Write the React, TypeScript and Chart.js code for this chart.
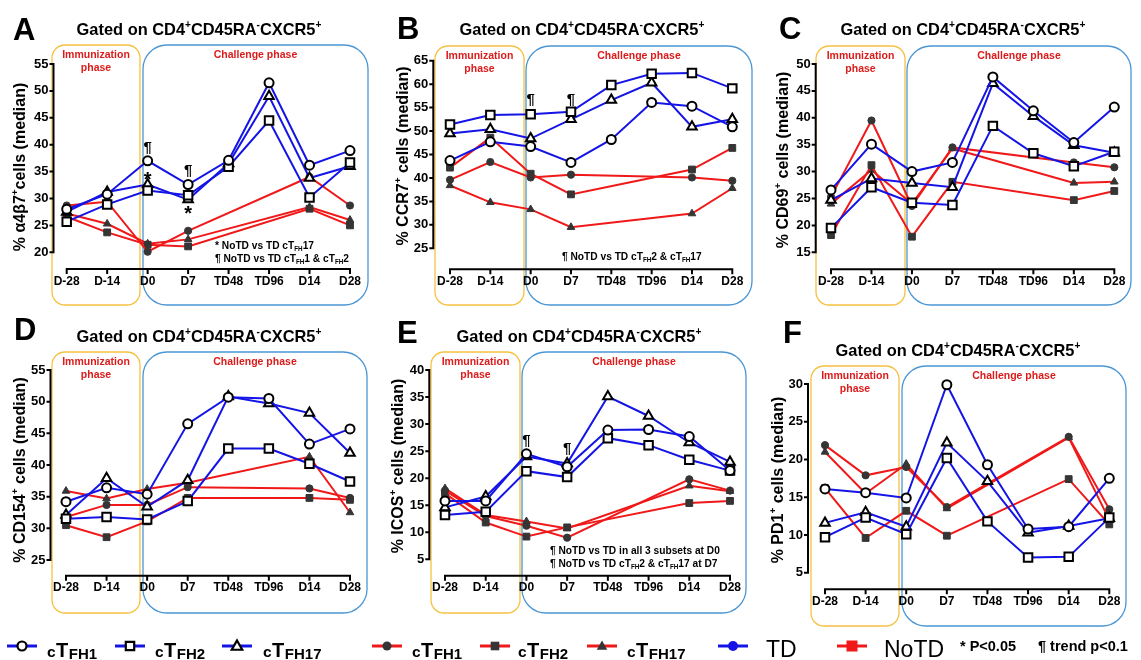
import React, { useEffect, useRef } from 'react';
import { Chart, registerables } from 'chart.js';
Chart.register(...registerables);

const FF = "'Liberation Sans', Arial, Helvetica, sans-serif";
const BLUE = '#1414e6';
const RED = '#f01818';
const MARK = '#353535';
const ORANGE = '#f6c141';
const BOXBLUE = '#4a96d4';
const PHASE_RED = '#dc1b1b';

// ---------- data ----------
const timepoints = ['D-28', 'D-14', 'D0', 'D7', 'TD48', 'TD96', 'D14', 'D28'];
const subsets = ['cTFH1', 'cTFH2', 'cTFH17'];

// Panel A: % a4b7+
const A_yTicks = [20, 25, 30, 35, 40, 45, 50, 55];
const A_TD_cTFH1 = [28.0, 30.8, 37.0, 32.6, 37.1, 51.5, 36.2, 38.9];
const A_TD_cTFH2 = [25.7, 28.9, 31.5, 30.6, 35.9, 44.5, 30.2, 36.7];
const A_TD_cTFH17 = [27.5, 31.2, 32.6, 29.8, 36.5, 49.0, 33.8, 36.0];
const A_NoTD_cTFH1 = [28.7, 29.4, 20.1, 24.0, null, null, 34.0, 28.7];
const A_NoTD_cTFH2 = [26.6, 23.7, 21.4, 21.1, null, null, 28.1, 25.0];
const A_NoTD_cTFH17 = [27.2, 25.3, 21.6, 22.4, null, null, 28.4, 26.0];

// Panel B: % CCR7+
const B_yTicks = [25, 30, 35, 40, 45, 50, 55, 60, 65];
const B_TD_cTFH1 = [43.7, 47.7, 46.7, 43.3, 48.2, 56.1, 55.3, 50.9];
const B_TD_cTFH2 = [51.4, 53.4, 53.6, 54.1, 59.8, 62.2, 62.4, 59.1];
const B_TD_cTFH17 = [49.5, 50.4, 48.4, 52.5, 56.6, 60.3, 50.9, 52.5];
const B_NoTD_cTFH1 = [39.6, 43.4, 40.1, 40.7, null, null, 40.1, 39.4];
const B_NoTD_cTFH2 = [42.2, 48.6, 40.9, 36.5, null, null, 41.8, 46.4];
const B_NoTD_cTFH17 = [38.4, 34.8, 33.3, 29.5, null, null, 32.4, 37.8];

// Panel C: % CD69+
const C_yTicks = [15, 20, 25, 30, 35, 40, 45, 50];
const C_TD_cTFH1 = [26.6, 35.1, 30.0, 31.7, 47.6, 41.3, 35.4, 42.0];
const C_TD_cTFH2 = [19.5, 27.1, 24.2, 23.8, 38.5, 33.4, 31.0, 33.7];
const C_TD_cTFH17 = [24.7, 28.7, 27.9, 27.1, 46.4, 40.3, 34.9, 33.5];
const C_NoTD_cTFH1 = [25.3, 39.5, 23.6, 34.5, null, null, 31.7, 30.8];
const C_NoTD_cTFH2 = [18.2, 31.2, 17.9, 28.1, null, null, 24.7, 26.4];
const C_NoTD_cTFH17 = [24.0, 30.3, 24.0, 34.3, null, null, 27.9, 28.1];

// Panel D: % CD154+
const D_yTicks = [25, 30, 35, 40, 45, 50, 55];
const D_TD_cTFH1 = [34.2, 36.4, 35.4, 46.5, 50.7, 50.5, 43.3, 45.7];
const D_TD_cTFH2 = [31.5, 31.8, 31.4, 34.3, 42.6, 42.6, 40.2, 37.4];
const D_TD_cTFH17 = [32.1, 37.9, 33.4, 37.6, 50.8, 49.7, 48.2, 41.9];
const D_NoTD_cTFH1 = [31.8, 33.7, 33.7, 36.5, null, null, 36.3, 34.8];
const D_NoTD_cTFH2 = [30.5, 28.6, 31.1, 34.8, null, null, 34.8, 34.5];
const D_NoTD_cTFH17 = [35.9, 34.7, 36.2, 37.2, null, null, 41.3, 32.5];

// Panel E: % ICOS+
const E_yTicks = [5, 10, 15, 20, 25, 30, 35, 40];
const E_TD_cTFH1 = [15.8, 15.8, 24.5, 22.1, 28.9, 29.0, 27.7, 21.4];
const E_TD_cTFH2 = [13.2, 13.8, 21.3, 20.2, 27.4, 26.1, 23.4, 21.4];
const E_TD_cTFH17 = [14.6, 16.6, 24.0, 22.7, 35.1, 31.5, 26.6, 23.0];
const E_NoTD_cTFH1 = [17.7, 13.0, 11.2, 9.0, null, null, 19.8, 17.7];
const E_NoTD_cTFH2 = [17.2, 11.8, 9.2, 10.9, null, null, 15.4, 15.8];
const E_NoTD_cTFH17 = [18.1, 13.2, 12.0, 10.7, null, null, 18.6, 17.6];

// Panel F: % PD1+
const F_yTicks = [5, 10, 15, 20, 25, 30];
const F_TD_cTFH1 = [16.1, 15.6, 14.9, 29.9, 19.3, 10.8, 11.1, 17.5];
const F_TD_cTFH2 = [9.7, 12.3, 10.1, 20.2, 11.8, 7.0, 7.1, 12.3];
const F_TD_cTFH17 = [11.6, 13.0, 11.1, 22.2, 17.1, 10.3, 11.2, 12.2];
const F_NoTD_cTFH1 = [21.9, 17.9, 19.0, 13.7, null, null, 23.0, 13.4];
const F_NoTD_cTFH2 = [16.2, 9.6, 13.2, 9.9, null, null, 17.4, 11.4];
const F_NoTD_cTFH17 = [21.0, 15.5, 19.4, 13.5, null, null, 22.9, 12.0];

// ---------- text helpers ----------
type Seg = [string, string?];
const font = (size: number, weight: string) => `${weight} ${size}px ${FF}`;
function richWidth(ctx: CanvasRenderingContext2D, segs: Seg[], size: number, weight: string) {
  let w = 0;
  for (const [t, k] of segs) {
    ctx.font = font(k ? size * 0.62 : size, weight);
    w += ctx.measureText(t).width;
  }
  return w;
}
function drawRich(ctx: CanvasRenderingContext2D, segs: Seg[], x: number, y: number, size: number, weight: string, color: string, align: string) {
  const w = richWidth(ctx, segs, size, weight);
  let cx = align === 'center' ? x - w / 2 : align === 'right' ? x - w : x;
  ctx.fillStyle = color;
  ctx.textAlign = 'left';
  ctx.textBaseline = 'alphabetic';
  for (const [t, k] of segs) {
    const fs = k ? size * 0.62 : size;
    ctx.font = font(fs, weight);
    const dy = k === 'sup' ? -size * 0.42 : k === 'sub' ? size * 0.22 : 0;
    ctx.fillText(t, cx, y + dy);
    cx += ctx.measureText(t).width;
  }
}
function roundRectPath(ctx: CanvasRenderingContext2D, x1: number, y1: number, x2: number, y2: number, r: number) {
  ctx.beginPath();
  ctx.moveTo(x1 + r, y1);
  ctx.lineTo(x2 - r, y1);
  ctx.arcTo(x2, y1, x2, y1 + r, r);
  ctx.lineTo(x2, y2 - r);
  ctx.arcTo(x2, y2, x2 - r, y2, r);
  ctx.lineTo(x1 + r, y2);
  ctx.arcTo(x1, y2, x1, y2 - r, r);
  ctx.lineTo(x1, y1 + r);
  ctx.arcTo(x1, y1, x1 + r, y1, r);
  ctx.closePath();
}

const TITLE: Seg[] = [['Gated on CD4'], ['+', 'sup'], ['CD45RA'], ['-', 'sup'], ['CXCR5'], ['+', 'sup']];

interface Note { x: number; y: number; segs: Seg[] }
interface Mark { t: string; i: number; v: number }
interface PanelCfg {
  id: string;
  cv: number[];
  yLabel: Seg[];
  yTicks: number[];
  td: (number | null)[][];
  notd: (number | null)[][];
  yAxisX: number; x0: number; x7: number; xAxisY: number; yTopPx: number; yBotPx: number;
  letterPos: number[]; titlePos: number[]; yLabPos: number[];
  orange: number[]; blue: number[];
  notes: Note[]; marks: Mark[];
}

const panels: PanelCfg[] = [
  {
    id: 'A', cv: [0, 0, 376, 312],
    yLabel: [['% α4β7'], ['+', 'sup'], ['cells (median)']], yTicks: A_yTicks,
    td: [A_TD_cTFH1, A_TD_cTFH2, A_TD_cTFH17], notd: [A_NoTD_cTFH1, A_NoTD_cTFH2, A_NoTD_cTFH17],
    yAxisX: 53.5, x0: 66.7, x7: 350, xAxisY: 269, yTopPx: 64, yBotPx: 252.3,
    letterPos: [13, 40], titlePos: [199, 35], yLabPos: [18.5, 167],
    orange: [52, 45, 140, 305], blue: [143, 45, 368, 305],
    notes: [
      { x: 215, y: 248.5, segs: [['* NoTD vs TD cT'], ['FH', 'sub'], ['17']] },
      { x: 215, y: 261.5, segs: [['¶ NoTD vs TD cT'], ['FH', 'sub'], ['1 & cT'], ['FH', 'sub'], ['2']] },
    ],
    marks: [{ t: '¶', i: 2, v: 39.5 }, { t: '*', i: 2, v: 34.0 }, { t: '¶', i: 3, v: 35.1 }, { t: '*', i: 3, v: 27.7 }],
  },
  {
    id: 'B', cv: [370, 0, 385, 312],
    yLabel: [['% CCR7'], ['+', 'sup'], [' cells (median)']], yTicks: B_yTicks,
    td: [B_TD_cTFH1, B_TD_cTFH2, B_TD_cTFH17], notd: [B_NoTD_cTFH1, B_NoTD_cTFH2, B_NoTD_cTFH17],
    yAxisX: 433.3, x0: 450, x7: 732.3, xAxisY: 269.3, yTopPx: 60.7, yBotPx: 248.3,
    letterPos: [397, 38.5], titlePos: [582, 35], yLabPos: [401.5, 156],
    orange: [435, 46, 524, 305], blue: [526, 46, 752, 305],
    notes: [{ x: 562, y: 260, segs: [['¶ NoTD vs TD cT'], ['FH', 'sub'], ['2 & cT'], ['FH', 'sub'], ['17']] }],
    marks: [{ t: '¶', i: 2, v: 56.6 }, { t: '¶', i: 3, v: 56.6 }],
  },
  {
    id: 'C', cv: [750, 0, 391, 312],
    yLabel: [['% CD69'], ['+', 'sup'], [' cells (median)']], yTicks: C_yTicks,
    td: [C_TD_cTFH1, C_TD_cTFH2, C_TD_cTFH17], notd: [C_NoTD_cTFH1, C_NoTD_cTFH2, C_NoTD_cTFH17],
    yAxisX: 815.7, x0: 831, x7: 1114.3, xAxisY: 269.3, yTopPx: 64, yBotPx: 252.3,
    letterPos: [779, 39], titlePos: [963, 35], yLabPos: [782, 160],
    orange: [816, 46, 905, 305], blue: [907, 46, 1131, 305],
    notes: [], marks: [],
  },
  {
    id: 'D', cv: [0, 300, 376, 330],
    yLabel: [['% CD154'], ['+', 'sup'], [' cells (median)']], yTicks: D_yTicks,
    td: [D_TD_cTFH1, D_TD_cTFH2, D_TD_cTFH17], notd: [D_NoTD_cTFH1, D_NoTD_cTFH2, D_NoTD_cTFH17],
    yAxisX: 50.5, x0: 66, x7: 350, xAxisY: 575.7, yTopPx: 370, yBotPx: 560,
    letterPos: [14, 340], titlePos: [199, 341.5], yLabPos: [18.5, 470],
    orange: [52, 352, 140, 613], blue: [143, 352, 367, 613],
    notes: [], marks: [],
  },
  {
    id: 'E', cv: [370, 300, 385, 330],
    yLabel: [['% ICOS'], ['+', 'sup'], [' cells (median)']], yTicks: E_yTicks,
    td: [E_TD_cTFH1, E_TD_cTFH2, E_TD_cTFH17], notd: [E_NoTD_cTFH1, E_NoTD_cTFH2, E_NoTD_cTFH17],
    yAxisX: 429.3, x0: 445, x7: 730, xAxisY: 575.7, yTopPx: 370, yBotPx: 559.3,
    letterPos: [397, 343], titlePos: [579, 341.5], yLabPos: [397, 466],
    orange: [431, 352, 520, 613], blue: [522, 352, 746, 613],
    notes: [
      { x: 550, y: 554, segs: [['¶ NoTD vs TD in all 3 subsets at D0']] },
      { x: 550, y: 567, segs: [['¶ NoTD vs TD cT'], ['FH', 'sub'], ['2 & cT'], ['FH', 'sub'], ['17 at D7']] },
    ],
    marks: [{ t: '¶', i: 2, v: 26.9 }, { t: '¶', i: 3, v: 25.45 }],
  },
  {
    id: 'F', cv: [750, 300, 391, 330],
    yLabel: [['% PD1'], ['+', 'sup'], [' cells (median)']], yTicks: F_yTicks,
    td: [F_TD_cTFH1, F_TD_cTFH2, F_TD_cTFH17], notd: [F_NoTD_cTFH1, F_NoTD_cTFH2, F_NoTD_cTFH17],
    yAxisX: 808, x0: 825, x7: 1109.3, xAxisY: 589.3, yTopPx: 384, yBotPx: 572.7,
    letterPos: [783, 343], titlePos: [958, 356], yLabPos: [777, 480],
    orange: [811, 366, 899, 626], blue: [902, 366, 1126, 626],
    notes: [], marks: [],
  },
];

const pointStyles = ['circle', 'rect', 'triangle'];
const tdRadius = [4.5, 6, 5.5];
const ntRadius = [3.6, 4.8, 4.4];

function buildConfig(p: PanelCfg): any {
  const [cl, ct, cw, ch] = p.cv;
  const lo = p.yTicks[0];
  const hi = p.yTicks[p.yTicks.length - 1];
  const ppu = (p.yBotPx - p.yTopPx) / (hi - lo);
  const yMin = lo - (p.xAxisY - p.yBotPx) / ppu;
  const yScaleWidth = p.x0 - cl;
  const xScaleHeight = ct + ch - p.xAxisY;

  const datasets: any[] = [];
  p.td.forEach((d, i) => datasets.push({
    label: 'TD ' + subsets[i], data: d, borderColor: BLUE, borderWidth: 2,
    pointStyle: pointStyles[i], pointRadius: tdRadius[i], pointBackgroundColor: '#ffffff',
    pointBorderColor: '#000000', pointBorderWidth: 2, spanGaps: true, clip: false, tension: 0, fill: false,
  }));
  p.notd.forEach((d, i) => datasets.push({
    label: 'NoTD ' + subsets[i], data: d, borderColor: RED, borderWidth: 2,
    pointStyle: pointStyles[i], pointRadius: ntRadius[i], pointBackgroundColor: MARK,
    pointBorderColor: MARK, pointBorderWidth: 1, spanGaps: true, clip: false, tension: 0, fill: false,
  }));

  const decor = {
    id: 'decor' + p.id,
    beforeDraw(chart: any) {
      const ctx = chart.ctx as CanvasRenderingContext2D;
      ctx.save();
      ctx.translate(-cl, -ct);
      ctx.lineWidth = 1.3;
      ctx.strokeStyle = ORANGE;
      roundRectPath(ctx, p.orange[0], p.orange[1], p.orange[2], p.orange[3], 13);
      ctx.stroke();
      ctx.strokeStyle = BOXBLUE;
      roundRectPath(ctx, p.blue[0], p.blue[1], p.blue[2], p.blue[3], 24);
      ctx.stroke();
      const ocx = (p.orange[0] + p.orange[2]) / 2;
      const bcx = (p.blue[0] + p.blue[2]) / 2;
      drawRich(ctx, [['Immunization']], ocx, p.orange[1] + 13, 10.5, 'bold', PHASE_RED, 'center');
      drawRich(ctx, [['phase']], ocx, p.orange[1] + 25.5, 10.5, 'bold', PHASE_RED, 'center');
      drawRich(ctx, [['Challenge phase']], bcx, p.blue[1] + 13, 10.5, 'bold', PHASE_RED, 'center');
      ctx.restore();
    },
    beforeDatasetsDraw(chart: any) {
      const ctx = chart.ctx as CanvasRenderingContext2D;
      const xs = chart.scales.x;
      const ys = chart.scales.y;
      const ax = p.yAxisX - cl;
      ctx.save();
      ctx.strokeStyle = '#000';
      ctx.lineWidth = 2;
      const yT = ys.getPixelForValue(hi);
      const yB = ys.getPixelForValue(lo);
      ctx.beginPath();
      ctx.moveTo(ax, yT - 1);
      ctx.lineTo(ax, yB + 1);
      for (const v of p.yTicks) {
        const y = ys.getPixelForValue(v);
        ctx.moveTo(ax - 4, y);
        ctx.lineTo(ax + 1, y);
      }
      const by = chart.chartArea.bottom;
      ctx.moveTo(xs.getPixelForValue(0) - 1, by);
      ctx.lineTo(xs.getPixelForValue(timepoints.length - 1) + 1, by);
      for (let i = 0; i < timepoints.length; i++) {
        const x = xs.getPixelForValue(i);
        ctx.moveTo(x, by - 1);
        ctx.lineTo(x, by + 5);
      }
      ctx.stroke();
      ctx.restore();
    },
    afterDraw(chart: any) {
      const ctx = chart.ctx as CanvasRenderingContext2D;
      const xs = chart.scales.x;
      const ys = chart.scales.y;
      ctx.save();
      for (const m of p.marks) {
        const x = xs.getPixelForValue(m.i);
        const y = ys.getPixelForValue(m.v);
        ctx.fillStyle = '#000';
        ctx.textAlign = 'center';
        ctx.textBaseline = 'middle';
        if (m.t === '*') {
          ctx.font = font(20, 'bold');
          ctx.fillText('*', x, y + 4);
        } else {
          ctx.font = font(15, 'bold');
          ctx.fillText(m.t, x, y);
        }
      }
      ctx.translate(-cl, -ct);
      drawRich(ctx, [[p.id]], p.letterPos[0], p.letterPos[1], 31, 'bold', '#000', 'left');
      drawRich(ctx, TITLE, p.titlePos[0], p.titlePos[1], 16.4, 'bold', '#000', 'center');
      for (const n of p.notes) drawRich(ctx, n.segs, n.x, n.y, 10.2, 'bold', '#000', 'left');
      ctx.save();
      ctx.translate(p.yLabPos[0], p.yLabPos[1]);
      ctx.rotate(-Math.PI / 2);
      drawRich(ctx, p.yLabel, 0, 6, 16, 'bold', '#000', 'center');
      ctx.restore();
      ctx.restore();
    },
  };

  return {
    type: 'line',
    data: { labels: timepoints, datasets },
    options: {
      animation: false,
      responsive: false,
      maintainAspectRatio: false,
      devicePixelRatio: 1,
      events: [],
      layout: { padding: { left: 0, right: cl + cw - p.x7, top: p.yTopPx - ct, bottom: 0 } },
      plugins: { legend: { display: false }, tooltip: { enabled: false }, title: { display: false } },
      scales: {
        x: {
          type: 'category', offset: false,
          grid: { display: false, drawTicks: false }, border: { display: false },
          ticks: { autoSkip: false, maxRotation: 0, minRotation: 0, padding: 5, color: '#000', font: { family: FF, size: 12, weight: 'bold' } },
          afterFit: (s: any) => { s.height = xScaleHeight; },
        },
        y: {
          type: 'linear', min: yMin, max: hi,
          grid: { display: false, drawTicks: false }, border: { display: false },
          ticks: { padding: p.x0 - (p.yAxisX - 5), color: '#000', font: { family: FF, size: 13, weight: 'bold' } },
          afterBuildTicks: (s: any) => { s.ticks = p.yTicks.map((v) => ({ value: v })); },
          afterFit: (s: any) => { s.width = yScaleWidth; },
        },
      },
    },
    plugins: [decor],
  };
}

function PanelChart({ p }: { p: PanelCfg }) {
  const ref = useRef<HTMLCanvasElement>(null);
  useEffect(() => {
    const chart = new Chart(ref.current as HTMLCanvasElement, buildConfig(p));
    return () => chart.destroy();
  }, []);
  const [l, t, w, h] = p.cv;
  return <canvas ref={ref} width={w} height={h} style={{ position: 'absolute', left: l, top: t, width: w, height: h }} />;
}

// ---------- legend ----------
function drawMarker(ctx: CanvasRenderingContext2D, style: string, x: number, y: number, s: number, fill: string, stroke: string, lw: number) {
  ctx.beginPath();
  if (style === 'circle') ctx.arc(x, y, s, 0, Math.PI * 2);
  else if (style === 'rect') ctx.rect(x - s, y - s, 2 * s, 2 * s);
  else {
    ctx.moveTo(x, y - s * 1.1);
    ctx.lineTo(x + s * 1.05, y + s * 0.75);
    ctx.lineTo(x - s * 1.05, y + s * 0.75);
    ctx.closePath();
  }
  ctx.fillStyle = fill;
  ctx.fill();
  if (lw > 0) { ctx.lineWidth = lw; ctx.strokeStyle = stroke; ctx.stroke(); }
}

const legendSeries = [
  { x: 7, color: BLUE, style: 'circle', fill: '#fff', stroke: '#000', lw: 2.2, s: 4.5, tx: 47, sub: 'FH1' },
  { x: 115, color: BLUE, style: 'rect', fill: '#fff', stroke: '#000', lw: 2.2, s: 4.2, tx: 155, sub: 'FH2' },
  { x: 222, color: BLUE, style: 'tri', fill: '#fff', stroke: '#000', lw: 2.2, s: 5, tx: 263, sub: 'FH17' },
  { x: 372, color: RED, style: 'circle', fill: MARK, stroke: MARK, lw: 0, s: 4.5, tx: 412, sub: 'FH1' },
  { x: 480, color: RED, style: 'rect', fill: MARK, stroke: MARK, lw: 0, s: 4.3, tx: 518, sub: 'FH2' },
  { x: 587, color: RED, style: 'tri', fill: MARK, stroke: MARK, lw: 0, s: 5, tx: 627, sub: 'FH17' },
];

function Legend() {
  const ref = useRef<HTMLCanvasElement>(null);
  useEffect(() => {
    const ctx = (ref.current as HTMLCanvasElement).getContext('2d') as CanvasRenderingContext2D;
    ctx.clearRect(0, 0, 1141, 40);
    const yc = 26;
    const base = 37;
    for (const it of legendSeries) {
      ctx.strokeStyle = it.color;
      ctx.lineWidth = 3;
      ctx.beginPath();
      ctx.moveTo(it.x, yc);
      ctx.lineTo(it.x + 30, yc);
      ctx.stroke();
      drawMarker(ctx, it.style, it.x + 15, yc, it.s, it.fill, it.stroke, it.lw);
      ctx.fillStyle = '#000';
      ctx.textAlign = 'left';
      ctx.textBaseline = 'alphabetic';
      let cx = it.tx;
      ctx.font = font(15.5, 'bold');
      ctx.fillText('c', cx, base);
      cx += ctx.measureText('c').width + 0.5;
      ctx.font = font(20, 'bold');
      ctx.fillText('T', cx, base);
      cx += ctx.measureText('T').width + 0.5;
      ctx.font = font(15, 'bold');
      ctx.fillText(it.sub, cx, base + 1.8);
    }
    ctx.strokeStyle = BLUE;
    ctx.lineWidth = 3;
    ctx.beginPath(); ctx.moveTo(718, yc); ctx.lineTo(748, yc); ctx.stroke();
    drawMarker(ctx, 'circle', 733, yc, 5, BLUE, BLUE, 0);
    ctx.fillStyle = '#000';
    ctx.font = font(23, 'normal');
    ctx.fillText('TD', 766, base);
    ctx.strokeStyle = RED;
    ctx.beginPath(); ctx.moveTo(837, yc); ctx.lineTo(867, yc); ctx.stroke();
    drawMarker(ctx, 'rect', 852, yc, 5.5, RED, RED, 0);
    ctx.fillStyle = '#000';
    ctx.font = font(23, 'normal');
    ctx.fillText('NoTD', 884, base);
    ctx.font = font(14.5, 'bold');
    ctx.fillText('* P<0.05', 960, 31);
    ctx.fillText('¶ trend p<0.1', 1038, 31);
  }, []);
  return <canvas ref={ref} width={1141} height={40} style={{ position: 'absolute', left: 0, top: 620, width: 1141, height: 40 }} />;
}

export default function App() {
  return (
    <div style={{ position: 'absolute', left: 0, top: 0, width: 1141, height: 660, background: '#fff', overflow: 'hidden' }}>
      {panels.map((p) => <PanelChart key={p.id} p={p} />)}
      <Legend />
    </div>
  );
}
